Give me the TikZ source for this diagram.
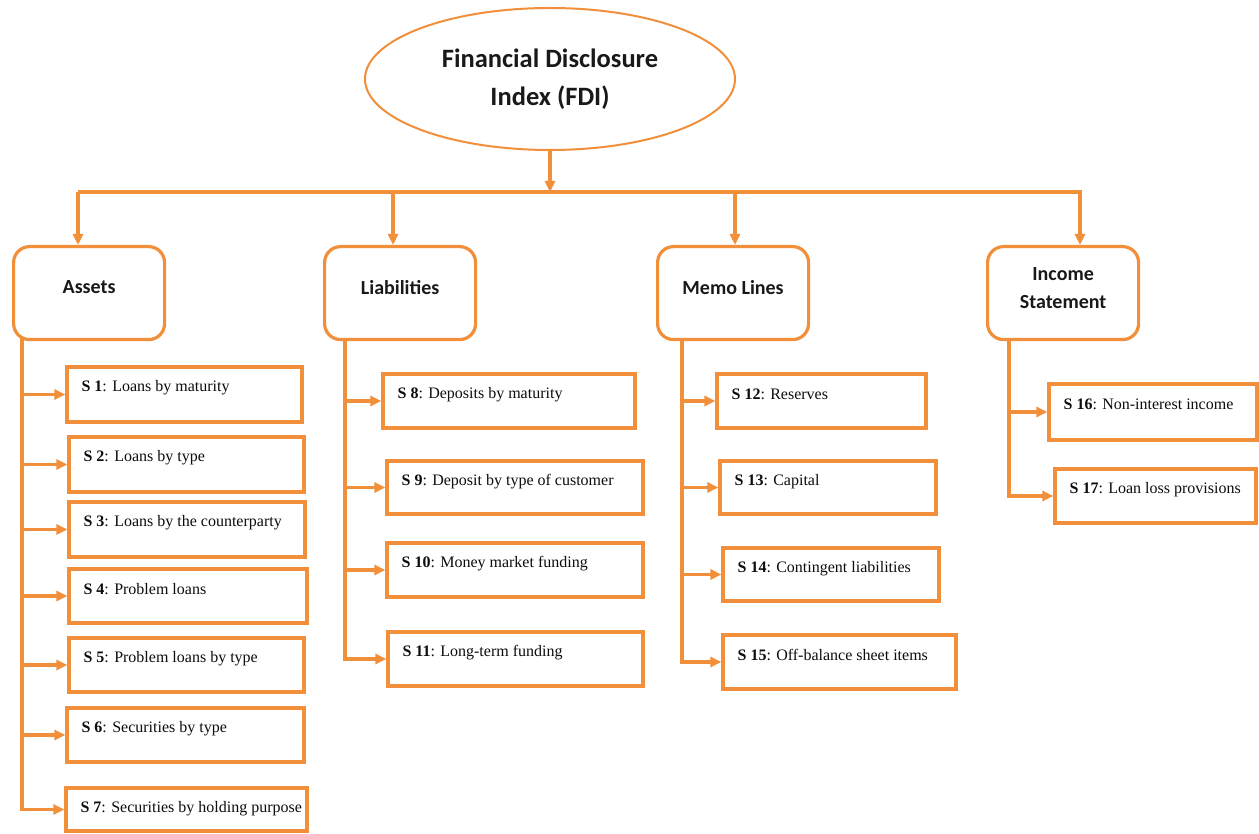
\documentclass[tikz,border=0pt]{standalone}
\usepackage{fontspec}
\setmainfont{Liberation Serif}
\newfontfamily\carlito{Carlito}
\usetikzlibrary{arrows.meta,fit,calc,shapes.geometric}
\definecolor{org}{RGB}{241,143,59}
\tikzset{
 sbox/.style={draw=org, line width=3.2pt, inner sep=0pt, rectangle},
 stext/.style={font=\fontsize{16}{18}\selectfont, inner sep=0pt, anchor=west, text=black!95},
 cbox/.style={draw=org, line width=3.2pt, rounded corners=16pt, minimum width=151pt, minimum height=93pt, inner sep=0pt, anchor=north west},
 ctext/.style={font=\carlito\bfseries\fontsize{20}{28}\selectfont, align=center, inner sep=0pt, text=black!90},
 conn/.style={draw=org, line width=3.2pt},
 arr/.style={conn, -{Triangle[length=11pt,width=10pt]}},
}
\newcommand\SBox[7]{%
 \node[sbox, fit={(#2,#3) (#4,#5)}] (#1) {};
 \node[stext] (#1t) at ($(#1.north west)+(16,22)$) {\textbf{S #6}: #7};
}
\begin{document}
\begin{tikzpicture}[x=1pt,y=-1pt]
\useasboundingbox (0,0) rectangle (1259,834);
\fill[white] (0,0) rectangle (1259,834);

% top ellipse
\node[draw=org, line width=2pt, ellipse, minimum width=370pt, minimum height=142pt, inner sep=0pt,
  font=\carlito\bfseries\fontsize{26.5}{38}\selectfont, align=center, text=black!90] (fdi) at (550,79)
  {Financial Disclosure\\Index (FDI)};

% bus
\coordinate (bl) at (78,192);
\coordinate (br) at (1082,192);
\draw[conn, line width=4pt] (bl) -- (br);
\draw[arr] (fdi.south) -- (fdi.south |- bl);

% category boxes
\node[cbox] (assets) at (12,245) {};
\node[cbox] (liab) at (323,245) {};
\node[cbox] (memo) at (656,245) {};
\node[cbox] (income) at (986,245) {};
\node[ctext] (assetst) at ($(assets.center)+(0,-6)$) {Assets};
\node[ctext] (liabt) at ($(liab.center)+(0,-6)$) {Liabilities};
\node[ctext] (memot) at ($(memo.center)+(0,-6)$) {Memo Lines};
\node[ctext] (incomet) at ($(income.center)+(0,-5)$) {Income\\Statement};

\coordinate (d1) at (78,192);
\coordinate (d2) at (393,192);
\coordinate (d3) at (735,192);
\coordinate (d4) at (1080,192);
\draw[arr] (d1) -- (d1 |- assets.north);
\draw[arr] (d2) -- (d2 |- liab.north);
\draw[arr] (d3) -- (d3 |- memo.north);
\draw[arr] (d4) -- (d4 |- income.north);

% S boxes
\SBox{s1}{67}{367}{302}{422}{1}{Loans by maturity}
\SBox{s2}{69}{437}{304}{492}{2}{Loans by type}
\SBox{s3}{69}{502}{305}{557}{3}{Loans by the counterparty}
\SBox{s4}{69}{569}{307}{623}{4}{Problem loans}
\SBox{s5}{69}{638}{304}{692}{5}{Problem loans by type}
\SBox{s6}{67}{708}{304}{762}{6}{Securities by type}
\SBox{s7}{66}{788}{307}{831}{7}{Securities by holding purpose}

\SBox{s8}{383}{374}{635}{428}{8}{Deposits by maturity}
\SBox{s9}{387}{461}{643}{514}{9}{Deposit by type of customer}
\SBox{s10}{387}{543}{643}{597}{10}{Money market funding}
\SBox{s11}{388}{632}{643}{686}{11}{Long-term funding}

\SBox{s12}{717}{374}{926}{428}{12}{Reserves}
\SBox{s13}{720}{461}{936}{514}{13}{Capital}
\SBox{s14}{723}{548}{939}{601}{14}{Contingent liabilities}
\SBox{s15}{723}{635}{956}{689}{15}{Off-balance sheet items}

\SBox{s16}{1049}{384}{1257}{440}{16}{Non-interest income}
\SBox{s17}{1055}{469}{1256}{523}{17}{Loan loss provisions}

% trunks
\coordinate (ta) at (22,338);
\coordinate (tl) at (345,338);
\coordinate (tm) at (682,338);
\coordinate (ti) at (1009,338);

\draw[arr] (ta) -- (ta |- s7.west) -- (s7.west);
\foreach \s in {s1,s2,s3,s4,s5,s6} \draw[arr] (ta |- \s.west) -- (\s.west);

\draw[arr] (tl) -- (tl |- s11.west) -- (s11.west);
\foreach \s in {s8,s9,s10} \draw[arr] (tl |- \s.west) -- (\s.west);

\draw[arr] (tm) -- (tm |- s15.west) -- (s15.west);
\foreach \s in {s12,s13,s14} \draw[arr] (tm |- \s.west) -- (\s.west);

\draw[arr] (ti) -- (ti |- s17.west) -- (s17.west);
\draw[arr] (ti |- s16.west) -- (s16.west);
\end{tikzpicture}
\end{document}
